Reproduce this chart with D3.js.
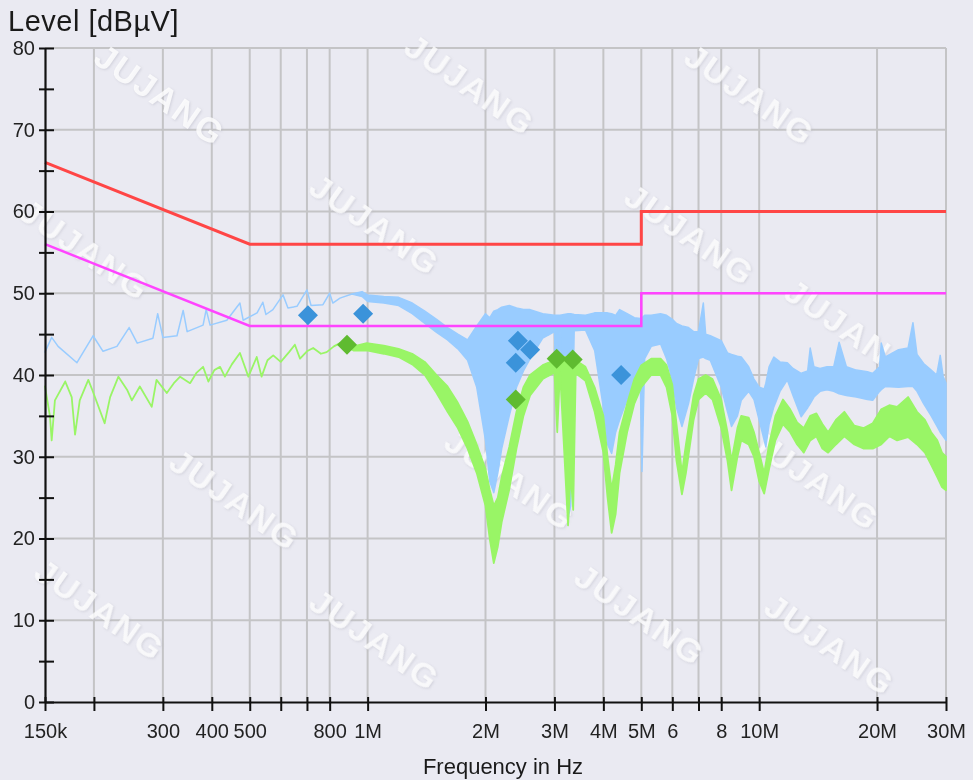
<!DOCTYPE html>
<html>
<head>
<meta charset="utf-8">
<script src="https://cdn.jsdelivr.net/npm/d3@7"></script>
<style>
  html, body { margin: 0; padding: 0; background: #eaeaf2; }
  svg { display: block; font-family: "Liberation Sans", Arial, sans-serif; }
</style>
</head>
<body>
<div id="vis-container"></div>
<script>
// Limites (MHz / dBµV)
const limitFreq = [0.15, 0.5, 5, 5, 30];
const limitQP = [66, 56, 56, 60, 60];
const limitAV = [56, 46, 46, 50, 50];

// Traço de pico (azul claro): frequência, topo e fundo da banda
const peakFreq = [0.150, 0.156, 0.162, 0.181, 0.199, 0.211, 0.229, 0.246, 0.258, 0.283, 0.291, 0.300, 0.326, 0.338, 0.346, 0.380, 0.387, 0.396, 0.437, 0.472, 0.481, 0.522, 0.540, 0.550, 0.573, 0.608, 0.626, 0.660, 0.700, 0.717, 0.769, 0.800, 0.815, 0.850, 0.912, 0.968,
  1.00, 1.10, 1.20, 1.30, 1.40, 1.50, 1.60, 1.70, 1.80, 1.90, 2.00, 2.05, 2.10, 2.15, 2.20, 2.30, 2.40, 2.50, 2.60, 2.80, 3.00, 3.05, 3.10, 3.25, 3.30, 3.37, 3.60, 3.80,
  4.00, 4.10, 4.20, 4.30, 4.40, 4.60, 4.80, 4.97, 5.02, 5.10, 5.30, 5.60, 5.80, 6.00, 6.15, 6.35, 6.60, 6.80, 7.00, 7.20, 7.30, 7.50, 8.00, 8.30, 8.50, 8.80, 9.00, 9.40, 9.70,
  10.0, 10.3, 10.4, 10.6, 10.9, 11.3, 11.8, 12.2, 12.8, 13.3, 13.5, 13.8, 14.3, 14.9, 15.5, 16.0, 16.7, 17.7, 18.9, 19.5, 20.3, 20.5, 21.0, 22.7, 24.0, 24.7, 25.3, 26.3, 27.5, 28.4, 29.0, 29.5, 30.0];
const peakHi = [42.8, 44.6, 43.5, 41.5, 44.8, 42.9, 43.5, 45.8, 43.9, 44.5, 47.5, 44.6, 44.8, 47.9, 45.3, 46.1, 48.0, 46.1, 46.7, 48.8, 46.7, 47.6, 48.9, 47.4, 48.0, 49.8, 48.2, 48.4, 50.4, 48.5, 48.6, 50.0, 48.8, 49.4, 49.9, 50.2,
  49.8, 49.6, 49.5, 48.8, 47.8, 46.8, 45.8, 45.0, 44.3, 46.0, 47.5, 47.0, 47.8, 48.0, 48.3, 48.5, 48.2, 48.0, 48.0, 47.5, 47.3, 47.3, 47.3, 47.5, 47.5, 47.4, 47.3, 47.6,
  47.6, 47.6, 47.5, 47.3, 48.0, 47.5, 47.0, 46.9, 47.0, 47.3, 47.3, 47.5, 47.3, 46.8, 46.3, 46.0, 45.8, 45.3, 45.3, 48.8, 45.0, 44.8, 44.2, 42.7, 42.5, 42.3, 42.2, 41.0, 39.5,
  38.5, 38.3, 39.0, 41.0, 42.2, 41.6, 41.5, 40.8, 40.2, 40.5, 43.3, 41.0, 40.8, 41.0, 41.0, 44.0, 41.0, 40.6, 40.4, 40.2, 41.0, 43.9, 42.2, 43.1, 43.3, 46.4, 42.5, 41.4, 40.6, 40.0, 42.4, 39.8, 39.0];
const peakLo = [42.8, 44.6, 43.5, 41.5, 44.8, 42.9, 43.5, 45.8, 43.9, 44.5, 47.5, 44.6, 44.8, 47.9, 45.3, 46.1, 48.0, 46.1, 46.7, 48.8, 46.7, 47.6, 48.9, 47.4, 48.0, 49.8, 48.2, 48.4, 50.4, 48.5, 48.6, 50.0, 48.8, 49.4, 49.9, 49.6,
  49.0, 48.8, 48.5, 47.5, 46.3, 45.2, 44.3, 43.2, 41.8, 38.5, 32.0, 27.0, 25.6, 28.0, 31.0, 35.0, 38.5, 40.5, 42.0, 44.5, 45.3, 34.5, 45.5, 22.5, 24.0, 45.4, 45.5, 43.0,
  36.0, 31.5, 30.4, 33.0, 34.5, 37.0, 38.8, 39.4, 28.2, 42.0, 43.5, 43.8, 42.0, 39.4, 36.0, 33.7, 36.5, 39.5, 42.0, 42.2, 42.0, 41.8, 38.5, 35.5, 33.7, 35.0, 36.9, 38.0, 37.0,
  34.5, 32.0, 31.2, 34.0, 36.1, 38.0, 39.4, 37.5, 34.9, 36.0, 36.5, 37.3, 38.0, 38.2, 38.0, 37.7, 37.5, 37.3, 37.0, 36.9, 38.0, 38.2, 38.6, 38.5, 38.6, 38.6, 38.0, 36.5, 35.0, 33.8, 33.0, 32.5, 32.0];

// Traço médio (verde claro)
const avgFreq = [0.150, 0.1545, 0.156, 0.159, 0.169, 0.1755, 0.179, 0.184, 0.1935, 0.198, 0.213, 0.220, 0.231, 0.243, 0.250, 0.262, 0.281, 0.289, 0.307, 0.320, 0.332, 0.352, 0.366, 0.380, 0.392, 0.406, 0.420, 0.432, 0.450, 0.472, 0.496, 0.521, 0.536, 0.555, 0.574, 0.600, 0.630, 0.652, 0.672, 0.700, 0.726, 0.760, 0.786, 0.820, 0.850, 0.920, 0.995,
  1.10, 1.20, 1.30, 1.40, 1.50, 1.60, 1.70, 1.80, 1.90, 2.00, 2.05, 2.10, 2.15, 2.20, 2.30, 2.40, 2.50, 2.60, 2.80, 3.00, 3.05, 3.10, 3.25, 3.30, 3.35, 3.40, 3.60, 3.80,
  4.00, 4.10, 4.20, 4.30, 4.40, 4.60, 4.80, 5.00, 5.30, 5.60, 5.80, 6.00, 6.15, 6.35, 6.50, 6.80, 7.00, 7.30, 7.60, 8.00, 8.30, 8.50, 8.80, 9.00, 9.40, 9.70,
  10.0, 10.3, 10.6, 11.0, 11.5, 12.0, 12.5, 13.0, 13.5, 14.0, 14.5, 15.0, 15.7, 16.5, 17.5, 18.5, 19.5, 20.5, 21.5, 22.5, 24.0, 25.3, 26.5, 27.5, 28.5, 29.3, 30.0];
const avgHi = [38.6, 34.9, 32.0, 36.9, 39.2, 37.3, 32.7, 36.9, 39.4, 38.2, 34.1, 37.3, 39.8, 38.2, 36.9, 38.6, 36.1, 39.4, 37.8, 39.0, 39.8, 39.0, 40.3, 41.0, 39.2, 40.6, 41.0, 39.8, 41.3, 42.7, 39.8, 42.2, 39.8, 41.8, 42.4, 41.6, 42.8, 43.7, 42.0, 42.9, 43.3, 42.6, 42.8, 43.5, 43.9, 43.5, 43.9,
  43.6, 43.2, 42.6, 41.6, 40.0, 38.6, 36.6, 34.3, 31.5, 28.5, 26.0, 24.0, 25.0, 27.5, 31.2, 35.5, 38.5, 40.0, 41.2, 41.8, 41.9, 42.2, 42.2, 42.0, 42.0, 41.8, 41.0, 38.5,
  35.0, 30.0, 26.0, 29.0, 33.0, 36.5, 39.5, 41.2, 42.0, 42.0, 41.2, 38.8, 34.0, 28.0, 31.5, 37.5, 39.5, 40.0, 39.5, 37.0, 33.0, 29.5, 33.5, 35.0, 34.8, 33.0,
  30.5, 28.0, 31.5, 35.0, 37.0, 35.8, 34.2, 33.5, 35.0, 35.3, 34.0, 33.0, 34.5, 35.5, 33.8, 33.5, 34.1, 35.8, 36.3, 36.1, 37.3, 35.5, 34.5, 33.0, 32.0, 30.5, 30.0];
const avgLo = [38.6, 34.9, 32.0, 36.9, 39.2, 37.3, 32.7, 36.9, 39.4, 38.2, 34.1, 37.3, 39.8, 38.2, 36.9, 38.6, 36.1, 39.4, 37.8, 39.0, 39.8, 39.0, 40.3, 41.0, 39.2, 40.6, 41.0, 39.8, 41.3, 42.7, 39.8, 42.2, 39.8, 41.8, 42.4, 41.6, 42.8, 43.7, 42.0, 42.9, 43.3, 42.6, 42.8, 43.5, 43.9, 43.0, 43.0,
  42.6, 42.2, 41.3, 40.0, 37.8, 35.5, 33.5, 31.0, 28.0, 24.0, 20.0, 17.0, 19.0, 22.0, 26.0, 31.0, 35.0, 37.5, 39.5, 40.3, 33.0, 40.5, 21.6, 28.0, 23.5, 40.2, 39.3, 35.5,
  30.5, 25.0, 20.7, 23.0, 28.0, 33.0, 36.5, 38.5, 40.0, 40.0, 38.5, 35.0, 29.5, 25.4, 28.0, 34.5, 37.0, 37.8, 37.0, 33.5, 29.5, 25.9, 30.0, 32.0, 31.5, 30.0,
  27.0, 25.5, 28.5, 32.0, 34.0, 33.0, 31.5, 30.5, 32.0, 32.5, 31.0, 30.5, 31.5, 32.5, 31.5, 31.0, 31.0, 31.5, 32.5, 32.0, 32.4, 31.5, 30.5, 29.0, 27.5, 26.3, 25.9];

// Resultados finais (marcadores)
const qpFreq = [0.704, 0.974, 2.39, 2.42, 2.60, 4.44];
const qpLevel = [47.3, 47.5, 41.5, 44.2, 43.1, 40.0];
const avFreq = [0.886, 2.39, 3.04, 3.34];
const avLevel = [43.7, 37.0, 42.0, 41.9];

// Eixos
const xTickValues = [0.15, 0.2, 0.3, 0.4, 0.5, 0.6, 0.7, 0.8, 1, 2, 3, 4, 5, 6, 7, 8, 10, 20, 30];
const xTickLabels = ["150k", "", "300", "400", "500", "", "", "800", "1M", "2M", "3M", "4M", "5M", "6", "", "8", "10M", "20M", "30M"];
const yTickValues = d3.range(0, 81, 5);

// ––––––––––––––––––––––––––––––––––––––––––––––––––––––––––––––––––––––––––––––––

const width = 973;
const height = 780;
const margin = { top: 48, right: 27, bottom: 78, left: 45 };

const svg = d3.select("#vis-container").append("svg").attr("width", width).attr("height", height);

svg.append("rect").attr("width", width).attr("height", height).attr("fill", "#eaeaf2");

// Sombra da marca de água
const defs = svg.append("defs");
defs
  .append("filter")
  .attr("id", "wm")
  .attr("x", "-10%")
  .attr("y", "-10%")
  .attr("width", "120%")
  .attr("height", "120%")
  .append("feDropShadow")
  .attr("dx", 1)
  .attr("dy", 1)
  .attr("stdDeviation", 1.2)
  .attr("flood-color", "#b8b8c4")
  .attr("flood-opacity", 0.6);

// Escalas
const x = d3.scaleLog().domain([0.15, 30]).range([margin.left, width - margin.right]);
const y = d3.scaleLinear().domain([0, 80]).range([height - margin.bottom, margin.top]);

// Grelha
const grid = svg.append("g");
grid
  .selectAll("line.v")
  .data(xTickValues.slice(1))
  .enter()
  .append("line")
  .attr("x1", (d) => x(d))
  .attr("x2", (d) => x(d))
  .attr("y1", y(80))
  .attr("y2", y(0))
  .attr("stroke", "#c4c4c6")
  .attr("stroke-width", 2);
grid
  .selectAll("line.h")
  .data(d3.range(10, 81, 10))
  .enter()
  .append("line")
  .attr("x1", x(0.15))
  .attr("x2", x(30))
  .attr("y1", (d) => y(d))
  .attr("y2", (d) => y(d))
  .attr("stroke", "#c4c4c6")
  .attr("stroke-width", 2);

// Marca de água (decoração)
const watermarkSpots = [
  [160, 95], [470, 85], [750, 95], [375, 225], [85, 250], [690, 235], [850, 330],
  [235, 500], [510, 480], [815, 480], [100, 610], [375, 640], [640, 615], [830, 645],
];
svg
  .append("g")
  .attr("filter", "url(#wm)")
  .selectAll("text")
  .data(watermarkSpots)
  .enter()
  .append("text")
  .attr("transform", (d) => `translate(${d[0]},${d[1]}) rotate(35)`)
  .attr("text-anchor", "middle")
  .attr("dy", "0.35em")
  .attr("font-size", 34)
  .attr("font-weight", "bold")
  .attr("letter-spacing", 2)
  .attr("fill", "#ffffff")
  .attr("fill-opacity", 0.8)
  .text("JUJANG");

// Traços
const band = d3
  .area()
  .x((d) => x(d.f))
  .y0((d) => y(d.lo))
  .y1((d) => y(d.hi));

const peakData = peakFreq.map((f, i) => ({ f: f, hi: peakHi[i], lo: peakLo[i] }));
const avgData = avgFreq.map((f, i) => ({ f: f, hi: avgHi[i], lo: avgLo[i] }));

svg
  .append("path")
  .datum(peakData)
  .attr("d", band)
  .attr("fill", "#99ccff")
  .attr("stroke", "#99ccff")
  .attr("stroke-width", 1.5)
  .attr("stroke-linejoin", "round");

svg
  .append("path")
  .datum(avgData)
  .attr("d", band)
  .attr("fill", "#99f566")
  .attr("stroke", "#99f566")
  .attr("stroke-width", 1.8)
  .attr("stroke-linejoin", "round");

// Linhas de limite
const limitLine = (vals) =>
  d3
    .line()
    .x((d, i) => x(limitFreq[i]))
    .y((d) => y(d))(vals);

svg.append("path").attr("d", limitLine(limitAV)).attr("fill", "none").attr("stroke", "#ff44ff").attr("stroke-width", 2.5);
svg.append("path").attr("d", limitLine(limitQP)).attr("fill", "none").attr("stroke", "#ff4646").attr("stroke-width", 3);

// Marcadores
const diamond = d3.symbol().type(d3.symbolSquare).size(200);
svg
  .append("g")
  .selectAll("path")
  .data(avFreq)
  .enter()
  .append("path")
  .attr("d", diamond)
  .attr("transform", (d, i) => `translate(${x(d)},${y(avLevel[i])}) rotate(45)`)
  .attr("fill", "#5fbb30");
svg
  .append("g")
  .selectAll("path")
  .data(qpFreq)
  .enter()
  .append("path")
  .attr("d", diamond)
  .attr("transform", (d, i) => `translate(${x(d)},${y(qpLevel[i])}) rotate(45)`)
  .attr("fill", "#3b93da");

// Eixo X
const xAxis = svg
  .append("g")
  .attr("transform", `translate(0,${y(0)})`)
  .call(
    d3
      .axisBottom(x)
      .tickValues(xTickValues)
      .tickFormat((d, i) => xTickLabels[i])
      .tickSize(9)
      .tickSizeOuter(0)
      .tickPadding(13)
  );
xAxis.select(".domain").attr("stroke", "#111").attr("stroke-width", 2.2);
xAxis.selectAll(".tick line").attr("y1", -5).attr("stroke", "#111").attr("stroke-width", 2);
xAxis.selectAll(".tick text").attr("font-size", 20).attr("fill", "#222").attr("font-family", "Liberation Sans, Arial, sans-serif");

// Eixo Y
const yAxis = svg
  .append("g")
  .attr("transform", `translate(${x(0.15)},0)`)
  .call(
    d3
      .axisLeft(y)
      .tickValues(yTickValues)
      .tickFormat((d) => (d % 10 === 0 ? d : ""))
      .tickSize(6)
      .tickSizeOuter(0)
      .tickPadding(4)
  );
yAxis.select(".domain").attr("stroke", "#111").attr("stroke-width", 2.2);
yAxis.selectAll(".tick line").attr("x1", 9).attr("stroke", "#111").attr("stroke-width", 2);
yAxis.selectAll(".tick text").attr("font-size", 20).attr("fill", "#222").attr("font-family", "Liberation Sans, Arial, sans-serif");

// Títulos
svg
  .append("text")
  .attr("x", 8)
  .attr("y", 31)
  .attr("font-size", 29)
  .attr("letter-spacing", 0.5)
  .attr("fill", "#1a1a1a")
  .text("Level [dBµV]");
svg
  .append("text")
  .attr("x", 503)
  .attr("y", 774)
  .attr("text-anchor", "middle")
  .attr("font-size", 22)
  .attr("fill", "#1a1a1a")
  .text("Frequency in Hz");
</script>
</body>
</html>
